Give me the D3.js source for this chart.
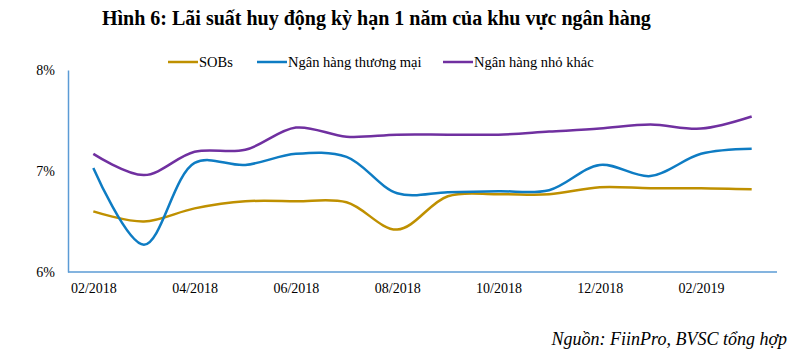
<!DOCTYPE html>
<html>
<head>
<meta charset="utf-8">
<script src="https://cdn.jsdelivr.net/npm/d3@7"></script>
<style>
  body { margin: 0; background: #fff; }
  svg text { font-family: "Liberation Serif", "Times New Roman", serif; fill: #000; }
</style>
</head>
<body>
<svg id="chart" width="810" height="363"></svg>
<script>
// months 02/2018 .. 03/2019
const months = ["02/2018","03/2018","04/2018","05/2018","06/2018","07/2018","08/2018",
                "09/2018","10/2018","11/2018","12/2018","01/2019","02/2019","03/2019"];
const tickLabels = ["02/2018","04/2018","06/2018","08/2018","10/2018","12/2018","02/2019"];
const sobs  = [6.60, 6.50, 6.63, 6.70, 6.70, 6.69, 6.42, 6.75, 6.77, 6.77, 6.84, 6.83, 6.83, 6.82];
const nhtm  = [7.03, 6.27, 7.08, 7.06, 7.17, 7.14, 6.78, 6.79, 6.80, 6.81, 7.06, 6.95, 7.17, 7.22];
const nhnk  = [7.17, 6.96, 7.19, 7.21, 7.43, 7.34, 7.36, 7.36, 7.36, 7.39, 7.42, 7.46, 7.42, 7.54];
const seriesNames = ["SOBs", "Ngân hàng thương mại", "Ngân hàng nhỏ khác"];
const yTicks = [6, 7, 8];

const colors = ["#BF9000", "#0E7CC3", "#7030A0"];
const allSeries = [sobs, nhtm, nhnk];

const svg = d3.select("#chart");
const mLeft = 68, mRight = 777, mTop = 70, mBottom = 272;

const x = d3.scalePoint().domain(months).range([mLeft, mRight]).padding(0.5);
const y = d3.scaleLinear().domain([6, 8]).range([mBottom, mTop]);

// title
svg.append("text")
  .attr("x", 102).attr("y", 25)
  .style("font-weight", "bold")
  .style("font-size", "20px")
  .text("Hình 6: Lãi suất huy động kỳ hạn 1 năm của khu vực ngân hàng");

// legend
const legendX = [168, 257, 443];
const lg = svg.append("g");
seriesNames.forEach(function(name, i) {
  lg.append("line")
    .attr("x1", legendX[i]).attr("x2", legendX[i] + 30)
    .attr("y1", 62).attr("y2", 62)
    .attr("stroke", colors[i]).attr("stroke-width", 2.5);
  lg.append("text")
    .attr("x", legendX[i] + 31).attr("y", 62)
    .attr("dy", "0.35em")
    .style("font-size", "14.5px")
    .text(name);
});

// axes
const yAxis = d3.axisLeft(y).tickValues(yTicks).tickSize(0).tickPadding(13)
  .tickFormat(d => d + "%");
const gy = svg.append("g").attr("transform", "translate(" + mLeft + ",0)").call(yAxis);
gy.select(".domain").attr("stroke", "#5B9BD5").attr("stroke-width", 1.5);
gy.selectAll("text").style("font-size", "14px").style("font-family", "Liberation Serif");

const xAxis = d3.axisBottom(x).tickValues(tickLabels).tickSize(0).tickPadding(11);
const gx = svg.append("g").attr("transform", "translate(0," + mBottom + ")").call(xAxis);
gx.select(".domain").attr("stroke", "#5B9BD5").attr("stroke-width", 1.5)
  .attr("d", "M" + mLeft + ",0H" + mRight);
gx.selectAll("text").style("font-size", "14px").style("font-family", "Liberation Serif");

// lines
const line = d3.line()
  .x((d, i) => x(months[i]))
  .y(d => y(d))
  .curve(d3.curveCatmullRom.alpha(0.5));

allSeries.forEach(function(s, i) {
  svg.append("path")
    .datum(s)
    .attr("fill", "none")
    .attr("stroke", colors[i])
    .attr("stroke-width", 2.5)
    .attr("d", line);
});

// source
svg.append("text")
  .attr("x", 787).attr("y", 345)
  .attr("text-anchor", "end")
  .style("font-style", "italic")
  .style("font-size", "18px")
  .text("Nguồn: FiinPro, BVSC tổng hợp");
</script>
</body>
</html>
